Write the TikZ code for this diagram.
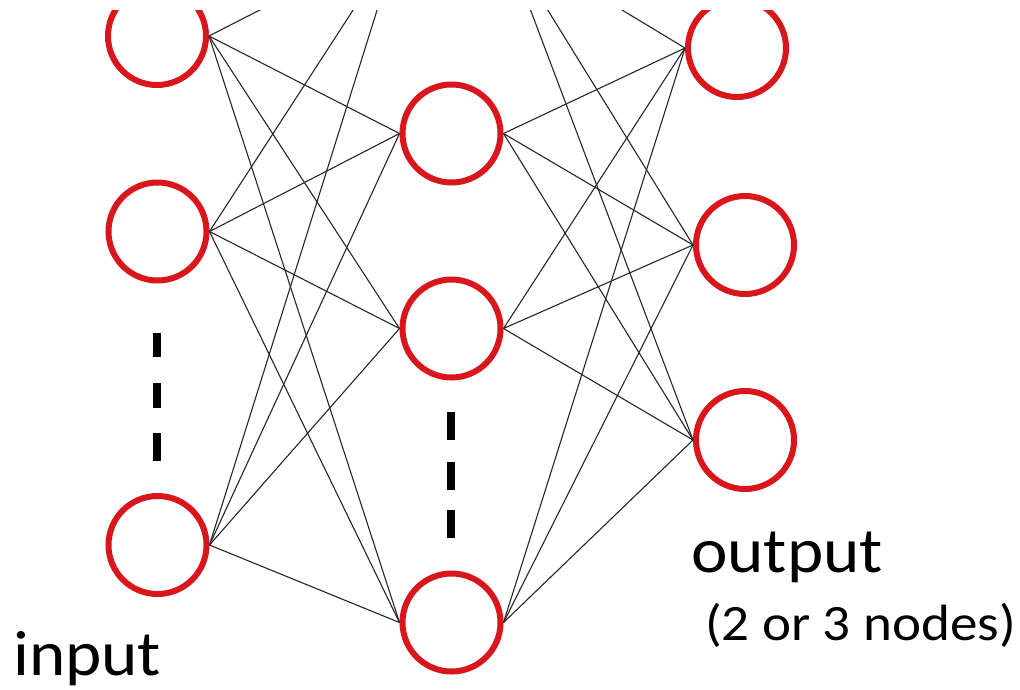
\documentclass[tikz,border=0pt]{standalone}
\usepackage{fontspec}
\setmainfont{Carlito}
\definecolor{nodered}{RGB}{216,22,28}
\newcommand{\widen}[1]{\scalebox{1.08}[1]{#1}}
\begin{document}
\begin{tikzpicture}[x=1pt,y=-1pt,
  neuron/.style={circle,draw=nodered,line width=6pt,minimum size=98pt,inner sep=0pt,fill=white},
  link/.style={line width=1.1pt,black!85},
  vdash/.style={line width=8pt,black},
  lbl/.style={anchor=base west,inner sep=0pt,font=\fontsize{64}{70}\selectfont},
  sublbl/.style={anchor=base west,inner sep=0pt,font=\fontsize{51}{60}\selectfont}]
\useasboundingbox (0,0) rectangle (1020,689);
\begin{scope}
\clip (0,10) rectangle (1020,689);
% input layer
\node[neuron] (i1) at (157,36) {};
\node[neuron] (i2) at (157.5,231.5) {};
\node[neuron] (i3) at (157.5,545) {};
% hidden layer
\node[neuron] (h0) at (451.5,-61.5) {};
\node[neuron] (h1) at (451.5,133.5) {};
\node[neuron] (h2) at (451.5,328.5) {};
\node[neuron] (h3) at (451.5,622.5) {};
% output layer
\node[neuron] (o1) at (737,48) {};
\node[neuron] (o2) at (745,245) {};
\node[neuron] (o3) at (745,440) {};
% connectors
\foreach \a in {i1,i2,i3}{
  \foreach \b in {h0,h1,h2,h3}{
    \draw[link] (\a.east) -- (\b.west);
  }
}
\foreach \a in {h0,h1,h2,h3}{
  \foreach \b in {o1,o2,o3}{
    \draw[link] (\a.east) -- (\b.west);
  }
}
\end{scope}
% ellipsis dashes
\coordinate (d1a) at (157,333); \coordinate (d1b) at (157,357);
\coordinate (d2a) at (157,383); \coordinate (d2b) at (157,408);
\coordinate (d3a) at (157,433); \coordinate (d3b) at (157,461);
\draw[vdash] (d1a) -- (d1b);
\draw[vdash] (d2a) -- (d2b);
\draw[vdash] (d3a) -- (d3b);
\coordinate (e1a) at (451,412); \coordinate (e1b) at (451,440);
\coordinate (e2a) at (451,462); \coordinate (e2b) at (451,490);
\coordinate (e3a) at (451,510); \coordinate (e3b) at (451,538);
\draw[vdash] (e1a) -- (e1b);
\draw[vdash] (e2a) -- (e2b);
\draw[vdash] (e3a) -- (e3b);
% labels
\node[lbl] (tin) at (13,675) {\widen{input}};
\node[lbl] (tout) at (691,572) {\widen{output}};
\node[sublbl] (tsub) at (705,640) {\widen{(2 or 3 nodes)}};
\end{tikzpicture}
\end{document}
